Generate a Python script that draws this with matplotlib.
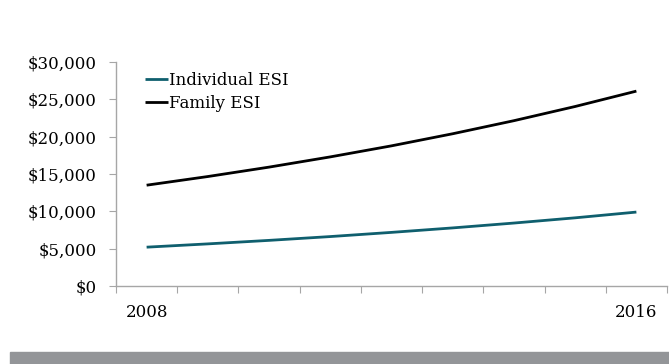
import matplotlib
matplotlib.use("Agg")
import matplotlib.pyplot as plt
from matplotlib.patches import Rectangle

# Data
years = [2008, 2009, 2010, 2011, 2012, 2013, 2014, 2015, 2016]
individual_esi = [5200, 5640, 6110, 6620, 7180, 7780, 8430, 9130, 9900]
family_esi = [13500, 14660, 15920, 17290, 18770, 20390, 22140, 24040, 26100]
shown_year_labels = ["2008", "2016"]
y_ticks = [0, 5000, 10000, 15000, 20000, 25000, 30000]

plt.rcParams['font.family'] = ['DejaVu Serif']

fig = plt.figure(figsize=(6.69, 3.64), dpi=100)
ax = fig.add_axes([0.1734, 0.2143, 0.8236, 0.6154])

x = list(range(len(years)))
ax.plot(x, individual_esi, color='#0f5f6e', linewidth=2.0,
        label='Individual ESI', solid_capstyle='butt')
ax.plot(x, family_esi, color='black', linewidth=2.0,
        label='Family ESI', solid_capstyle='butt')

ax.set_xlim(-0.5, len(years) - 0.5)
ax.set_ylim(0, 30000)

axis_grey = '#a6a6a6'
for side in ['top', 'right']:
    ax.spines[side].set_visible(False)
for side in ['left', 'bottom']:
    ax.spines[side].set_color(axis_grey)
    ax.spines[side].set_linewidth(1.0)

# category boundaries as tick marks, labels only on first and last year
ax.set_xticks([i - 0.5 for i in range(len(years) + 1)])
ax.set_xticklabels([])
ax.set_xticks([0, len(years) - 1], minor=True)
ax.set_xticklabels(shown_year_labels, minor=True, fontsize=12)
ax.tick_params(axis='x', which='major', direction='out', length=5,
               color=axis_grey)
ax.tick_params(axis='x', which='minor', length=0, pad=13)

ax.set_yticks(y_ticks)
ax.set_yticklabels([f"${v:,}" for v in y_ticks], fontsize=12)
ax.tick_params(axis='y', direction='out', length=5, color=axis_grey, pad=9)

ax.legend(loc='upper left', bbox_to_anchor=(0.035, 1.0), frameon=False,
          fontsize=12, handlelength=1.35, handletextpad=0.05,
          labelspacing=0.35, borderaxespad=0.2)

# grey band along the bottom
fig.patches.append(Rectangle((10 / 669, 0), 1 - 10 / 669, 12 / 364,
                             transform=fig.transFigure, color='#939598',
                             zorder=0))

fig.savefig("out.png", dpi=100)
